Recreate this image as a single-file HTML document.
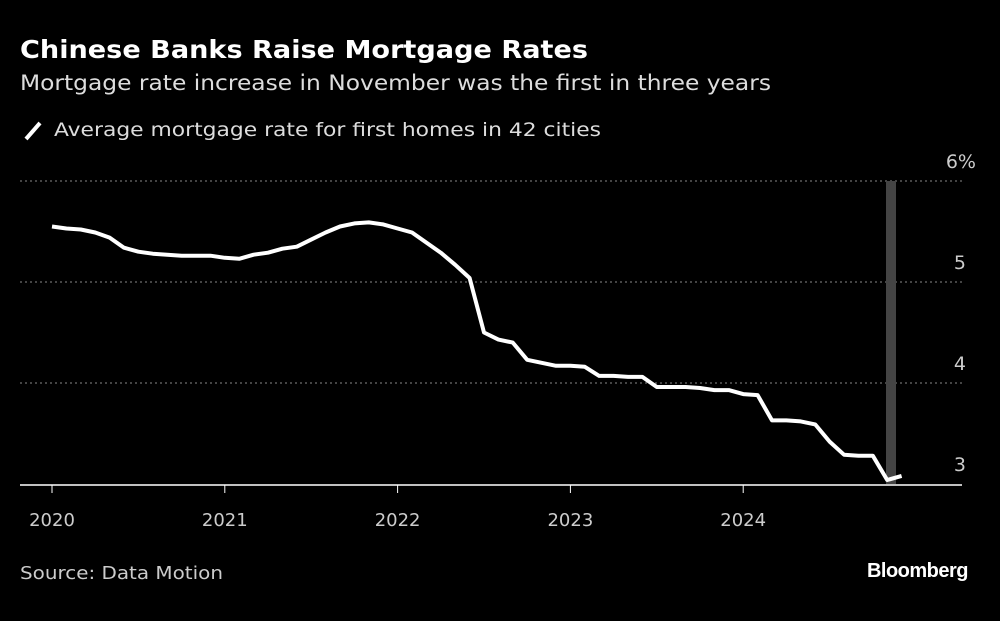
<!DOCTYPE html>
<html><head><meta charset="utf-8"><style>
body{margin:0;background:#000;width:1000px;height:617px;overflow:hidden;font-family:"DejaVu Sans",sans-serif;color:#fff}
text{font-family:"DejaVu Sans",sans-serif}
</style></head><body>
<svg width="1000" height="617">
<text x="20" y="58" font-size="25" font-weight="bold" fill="#fff" textLength="568" lengthAdjust="spacingAndGlyphs">Chinese Banks Raise Mortgage Rates</text>
<text x="20" y="90" font-size="21" fill="#ddd" textLength="751" lengthAdjust="spacingAndGlyphs">Mortgage rate increase in November was the first in three years</text>
<line x1="26" y1="139" x2="40" y2="123" stroke="#fff" stroke-width="4"/>
<text x="54" y="136" font-size="19" fill="#ddd" textLength="547" lengthAdjust="spacingAndGlyphs">Average mortgage rate for first homes in 42 cities</text>
<g id="grid"></g>
<rect x="886" y="181" width="10" height="303" fill="#444"/>
<line x1="20" y1="485" x2="962" y2="485" stroke="#fff" stroke-width="1.5"/>
<g id="xt"></g>
<path id="line" fill="none" stroke="#fff" stroke-width="4" stroke-linejoin="round"/>
<text x="20" y="579" font-size="18" fill="#ccc" textLength="203" lengthAdjust="spacingAndGlyphs">Source: Data Motion</text>
<text x="968" y="577" font-size="20" font-weight="bold" fill="#fff" text-anchor="end" style="font-family:'Liberation Sans',sans-serif" letter-spacing="-0.5">Bloomberg</text>
</svg>
<script>
const years=[2020,2021,2022,2023,2024];
const yTicks=[6,5,4,3];
const yTickLabels=["6%","5","4","3"];
const rates=[5.55,5.53,5.52,5.49,5.44,5.34,5.30,5.28,5.27,5.26,5.26,5.26,
5.24,5.23,5.27,5.29,5.33,5.35,5.42,5.49,5.55,5.58,5.59,5.57,
5.53,5.49,5.39,5.29,5.17,5.04,4.50,4.43,4.40,4.23,4.20,4.17,
4.17,4.16,4.07,4.07,4.06,4.06,3.96,3.96,3.96,3.95,3.93,3.93,
3.89,3.88,3.63,3.63,3.62,3.59,3.42,3.29,3.28,3.28,3.04,3.08];
const ns="http://www.w3.org/2000/svg";
const X=m=>52+m*(172.8/12);
const Y=v=>282-(v-5)*101;
const g=document.getElementById('grid');
yTicks.forEach((t,i)=>{
 if(t>3){const l=document.createElementNS(ns,'line');
 l.setAttribute('x1',20);l.setAttribute('x2',962);l.setAttribute('y1',Y(t));l.setAttribute('y2',Y(t));
 l.setAttribute('stroke','#888');l.setAttribute('stroke-dasharray','2,3');
 
 
 g.appendChild(l);}
 const tx=document.createElementNS(ns,'text');
 tx.setAttribute('x',t===6?976:966);tx.setAttribute('y',Y(t)-13);tx.setAttribute('text-anchor','end');
 tx.setAttribute('font-size','19');tx.setAttribute('fill','#ccc');tx.textContent=yTickLabels[i];
 
 
 g.appendChild(tx);
});
const xt=document.getElementById('xt');
years.forEach((yr,i)=>{
 const x=X(i*12);
 const l=document.createElementNS(ns,'line');
 l.setAttribute('x1',x);l.setAttribute('x2',x);l.setAttribute('y1',485);l.setAttribute('y2',493);l.setAttribute('stroke','#fff');
 
 
 xt.appendChild(l);
 const tx=document.createElementNS(ns,'text');
 tx.setAttribute('x',x);tx.setAttribute('y',526);tx.setAttribute('text-anchor','middle');
 tx.setAttribute('font-size','18');tx.setAttribute('fill','#ccc');tx.textContent=yr;
 
 
 xt.appendChild(tx);
});
document.getElementById('line').setAttribute('d',rates.map((v,i)=>(i?'L':'M')+X(i).toFixed(1)+','+Y(v).toFixed(1)).join(''));
</script>
</body></html>
